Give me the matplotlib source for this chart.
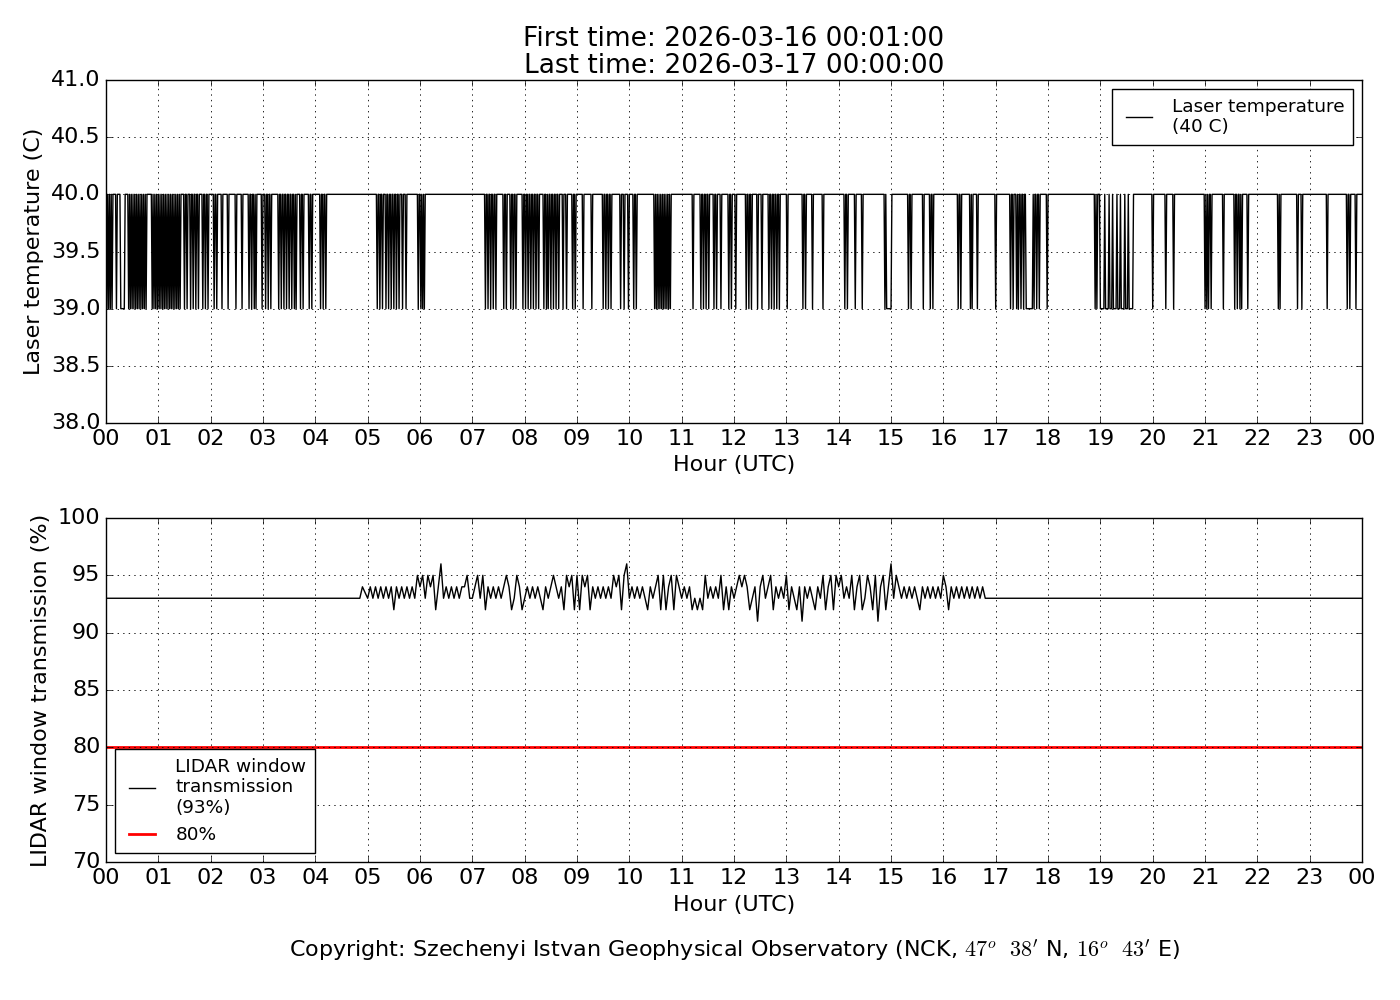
import numpy as np
import matplotlib
matplotlib.use("Agg")
import matplotlib.pyplot as plt

# laser temperature: 40 C with drops to 39 C (minute of day where it reads 39)
dip_minutes = [1, 3, 5, 7, 12,
               26, 28, 30, 32, 34, 36, 38, 40, 42, 44, 46,
               53, 55, 57, 59, 61, 63, 65, 67, 69, 71, 73, 75, 77, 79, 81, 83, 85,
               90, 93, 97, 100, 103, 106, 111, 114, 117, 124, 127, 133, 140, 149, 156,
               164, 167, 170, 172, 179, 183, 186, 189,
               198, 201, 204, 207, 210, 213, 216, 218, 223, 226, 233, 236, 246, 249, 252,
               311, 314, 317, 321, 324, 327, 330, 333, 336, 340, 344, 358, 361, 363, 365,
               435, 438, 441, 444, 447, 456, 459, 464, 467, 470, 478, 481, 484, 487, 490,
               493, 496, 502, 505, 507, 510, 513, 516, 519, 524, 528, 535, 538, 547, 557,
               570, 573, 576, 579, 590, 594, 599, 605, 608,
               629, 631, 633, 635, 637, 639, 641, 643, 645, 647,
               673, 682, 685, 688, 691, 697, 700, 705, 714, 717, 722,
               734, 737, 740, 747, 752, 760, 763, 766, 769, 772, 781, 799, 802, 810, 822,
               847, 850, 859, 867, 893, 920, 923, 937, 945, 948, 977, 980, 991, 993, 999,
               1020, 1037, 1040, 1044, 1046, 1049, 1052, 1055, 1064, 1067, 1070, 1079,
               1134, 1136, 1200, 1215, 1224, 1260, 1262, 1264, 1267, 1281,
               1294, 1297, 1300, 1302, 1309, 1344, 1346, 1366, 1371, 1400, 1423, 1426, 1433]
# longer stretches at 39 C: (start minute, length in minutes)
long_dips = [(17, 5), (895, 6), (1056, 7), (1140, 5), (1146, 4), (1151, 3),
             (1155, 4), (1160, 3), (1164, 4), (1169, 3), (1173, 5)]

# window transmission: 93 % baseline, readings every 3 min from 04:57 to 16:48 UTC (value - 90)
trans_hours = [4, 5, 6, 7, 8, 9, 10, 11, 12, 13, 14, 15, 16]
trans_digits = ["3333333333333333334",
                "34343434342434343435",
                "45354524634343434453",
                "34535243434345423542",
                "34343432434543425452",
                "52545243434343545256",
                "34343432434525245254",
                "34342323253434352424",
                "34545423414534524343",
                "52432414343243524525",
                "45343524523542514524",
                "63543434343243434343",
                "54243434343434343"]
trans_base = 93
threshold = 80

hour_labels = ["%02d" % (h % 24) for h in range(25)]
title_text = "First time: 2026-03-16 00:01:00\nLast time: 2026-03-17 00:00:00"
copyright_text = ("Copyright: Szechenyi Istvan Geophysical Observatory "
                  "(NCK, $47^o\\ \\ 38'$ N, $16^o\\ \\ 43'$ E)")

# build the series
minutes = np.arange(1, 1441)
temp = np.full(minutes.shape, 40.0)
temp[np.isin(minutes, dip_minutes)] = 39.0
for start, length in long_dips:
    temp[(minutes >= start) & (minutes < start + length)] = 39.0
t_hours = minutes / 60.0

tr_x = [0.0]
tr_y = [trans_base]
for h, s in zip(trans_hours, trans_digits):
    for i, ch in enumerate(s):
        tr_x.append(h + 3 * i / 60.0)
        tr_y.append(90 + int(ch))
tr_x.append(tr_x[-1] + 3 / 60.0)
tr_y.append(trans_base)
tr_x.append(24.0)
tr_y.append(trans_base)

plt.style.use("classic")
plt.rcParams["figure.facecolor"] = "white"
plt.rcParams["savefig.facecolor"] = "white"
plt.rcParams["font.family"] = ["DejaVu Sans"]

fig = plt.figure(figsize=(14, 10), dpi=100)
ax1 = fig.add_axes([0.0757, 0.577, 0.8972, 0.343])
ax2 = fig.add_axes([0.0757, 0.138, 0.8972, 0.344])

ax1.plot(t_hours, temp, color="k", lw=1, label="Laser temperature\n(40 C)")
ax1.set_ylim(38, 41)
ax1.set_yticks(np.arange(38, 41.01, 0.5))
ax1.set_yticklabels(["%.1f" % v for v in np.arange(38, 41.01, 0.5)])
ax1.set_ylabel("Laser temperature (C)", fontsize=16)
ax1.set_title(title_text, fontsize=19, linespacing=1.05, pad=5)
ax1.legend(loc="upper right", fontsize=13.3, handlelength=2, borderpad=0.45)

ax2.plot(tr_x, tr_y, color="k", lw=1,
         label="LIDAR window\ntransmission\n(93%)")
ax2.axhline(threshold, color="red", lw=2, label="80%")
ax2.set_ylim(70, 100)
ax2.set_yticks(np.arange(70, 101, 5))
ax2.set_ylabel("LIDAR window transmission (%)", fontsize=16)
ax2.legend(loc="lower left", fontsize=13.3, handlelength=2, borderpad=0.45)

for ax in (ax1, ax2):
    ax.set_xlim(0, 24)
    ax.set_xticks(range(25))
    ax.set_xticklabels(hour_labels)
    ax.set_xlabel("Hour (UTC)", fontsize=16, labelpad=5)
    ax.tick_params(labelsize=16)
    ax.grid(True, color="k", linestyle=":", lw=0.6)

fig.text(0.525, 0.05, copyright_text, ha="center", va="center", fontsize=16)

fig.savefig("out.png", dpi=100)
